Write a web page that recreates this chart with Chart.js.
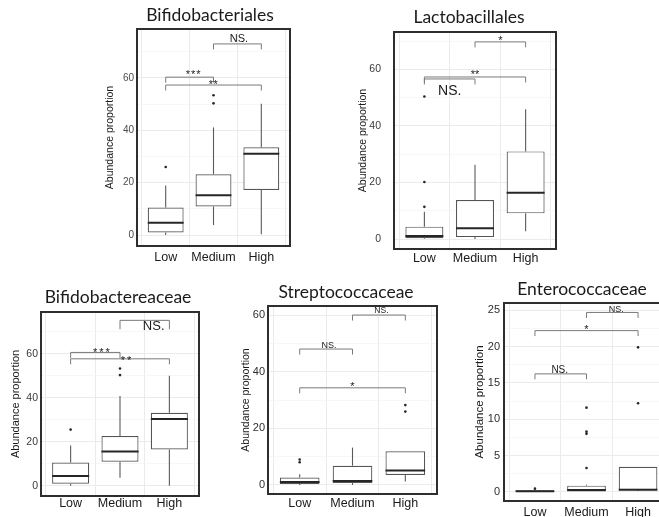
<!DOCTYPE html>
<html>
<head>
<meta charset="utf-8">
<title>Abundance proportion by group</title>
<script src="https://cdn.jsdelivr.net/npm/chart.js@4.4.1/dist/chart.umd.min.js"></script>
<style>
  html, body { margin: 0; padding: 0; background: #ffffff; width: 659px; height: 517px; overflow: hidden; }
  canvas { position: absolute; left: 0; top: 0; }
</style>
</head>
<body>
<canvas id="bifidobacteriales" width="680" height="517"></canvas>
<canvas id="lactobacillales" width="680" height="517"></canvas>
<canvas id="bifidobactereaceae" width="680" height="517"></canvas>
<canvas id="streptococcaceae" width="680" height="517"></canvas>
<canvas id="enterococcaceae" width="680" height="517"></canvas>
<script>
// ---------- data ----------
const groups = ['Low', 'Medium', 'High'];
const axisTitle = 'Abundance proportion';

// Bifidobacteriales
const bfoMin = [0, 3.8, 0.3];
const bfoQ1 = [1.0, 10.9, 17.2];
const bfoMedian = [4.7, 15.2, 31.0];
const bfoQ3 = [10.5, 23.2, 33.5];
const bfoMax = [18.9, 41.1, 50.1];
const bfoOutliers = [[26.0], [50.3, 53.4], []];
const bfoTicks = [0, 20, 40, 60];
const bfoTestPairs = [['Low', 'Medium'], ['Low', 'High'], ['Medium', 'High']];
const bfoTestHeights = [60.3, 57.3, 73.0];
const bfoTestLabels = ['***', '**', 'NS.'];

// Lactobacillales
const lacMin = [0, 0, 2.8];
const lacQ1 = [0.3, 0.7, 9.1];
const lacMedian = [1.1, 3.8, 16.4];
const lacQ3 = [4.4, 13.8, 31.0];
const lacMax = [9.7, 26.3, 45.9];
const lacOutliers = [[11.4, 20.2, 50.4], [], []];
const lacTicks = [0, 20, 40, 60];
const lacTestPairs = [['Medium', 'High'], ['Low', 'High'], ['Low', 'Medium']];
const lacTestHeights = [69.7, 57.3, 56.6];
const lacTestLabels = ['*', '**', 'NS.'];

// Bifidobactereaceae
const bfaMin = [0, 3.6, 0];
const bfaQ1 = [0.9, 10.9, 16.5];
const bfaMedian = [4.4, 15.5, 30.3];
const bfaQ3 = [10.5, 22.6, 33.2];
const bfaMax = [18.3, 40.8, 50.0];
const bfaOutliers = [[25.5], [50.3, 53.3], []];
const bfaTicks = [0, 20, 40, 60];
const bfaTestPairs = [['Low', 'Medium'], ['Low', 'High'], ['Medium', 'High']];
const bfaTestHeights = [60.6, 57.7, 75.2];
const bfaTestLabels = ['***', '**', 'NS.'];

// Streptococcaceae
const strMin = [0, 0, 1.2];
const strQ1 = [0.35, 0.7, 3.5];
const strMedian = [1.06, 1.4, 5.1];
const strQ3 = [2.6, 6.8, 11.9];
const strMax = [3.8, 13.2, 11.9];
const strOutliers = [[8.0, 9.0], [], [25.9, 28.2]];
const strTicks = [0, 20, 40, 60];
const strTestPairs = [['Low', 'Medium'], ['Medium', 'High'], ['Low', 'High']];
const strTestHeights = [48.0, 60.0, 34.3];
const strTestLabels = ['NS.', 'NS.', '*'];

// Enterococcaceae
const entMin = [0, 0, 0.14];
const entQ1 = [0, 0, 0.27];
const entMedian = [0.09, 0.27, 0.3];
const entQ3 = [0.23, 0.87, 3.46];
const entMax = [0.3, 1.0, 3.46];
const entOutliers = [[0.46], [3.3, 8.0, 8.3, 11.6], [12.2, 19.9]];
const entTicks = [0, 5, 10, 15, 20, 25];
const entTestPairs = [['Medium', 'High'], ['Low', 'High'], ['Low', 'Medium']];
const entTestHeights = [24.7, 22.2, 16.25];
const entTestLabels = ['NS.', '*', 'NS.'];

// ---------- drawing ----------
const FONT = "'Liberation Sans', Arial, sans-serif";
const TITLE_FONT = "Lato, 'Open Sans', sans-serif";
const CANVAS_W = 680, CANVAS_H = 517;
const Y_AXIS_W = 40, X_AXIS_H = 20;

function strokeLine(c, x1, y1, x2, y2) {
  c.beginPath(); c.moveTo(x1, y1); c.lineTo(x2, y2); c.stroke();
}

function boxPlotPlugin(stats, tests, look) {
  return {
    id: 'boxPlot',
    beforeDatasetsDraw(chart) {
      const { ctx: c, scales: { x, y } } = chart;
      c.save();
      c.strokeStyle = '#5a5a5a';
      c.lineWidth = 1.1;
      stats.q1.forEach((_, i) => {
        const px = x.getPixelForValue(i + 1);
        strokeLine(c, px, y.getPixelForValue(stats.max[i]), px, y.getPixelForValue(stats.q3[i]));
        strokeLine(c, px, y.getPixelForValue(stats.q1[i]), px, y.getPixelForValue(stats.min[i]));
      });
      c.restore();
    },
    afterDatasetsDraw(chart) {
      const { ctx: c, scales: { x, y } } = chart;
      const boxes = chart.getDatasetMeta(0).data;
      c.save();
      // medians
      c.strokeStyle = '#262626';
      c.lineWidth = 2;
      stats.median.forEach((m, i) => {
        const b = boxes[i];
        const py = y.getPixelForValue(m);
        strokeLine(c, b.x - b.width / 2, py, b.x + b.width / 2, py);
      });
      // significance brackets
      c.strokeStyle = '#7a7a7a';
      c.lineWidth = 1;
      c.fillStyle = '#1a1a1a';
      c.textAlign = 'center';
      c.textBaseline = 'alphabetic';
      tests.pairs.forEach((pair, k) => {
        const st = look.brackets[k];
        const x1 = x.getPixelForValue(groups.indexOf(pair[0]) + 1);
        const x2 = x.getPixelForValue(groups.indexOf(pair[1]) + 1);
        const py = y.getPixelForValue(tests.heights[k]);
        const tip = st.tip ?? 5.5;
        c.beginPath();
        c.moveTo(x1, py + tip); c.lineTo(x1, py); c.lineTo(x2, py); c.lineTo(x2, py + tip);
        c.stroke();
        c.font = `${st.size}px ${FONT}`;
        c.letterSpacing = `${st.spacing || 0}px`;
        c.fillText(tests.labels[k], (x1 + x2) / 2 + (st.dx || 0), py + st.dy);
      });
      c.restore();
    },
    afterDraw(chart) {
      const { ctx: c, chartArea: a } = chart;
      c.save();
      c.strokeStyle = '#2e2e2e';
      c.lineWidth = 2;
      c.strokeRect(a.left, a.top, a.right - a.left, a.bottom - a.top);
      c.font = `${look.titleSize}px ${TITLE_FONT}`;
      c.fillStyle = '#1a1a1a';
      c.textAlign = 'center';
      c.textBaseline = 'middle';
      c.fillText(look.title, look.titleX, look.titleY);
      c.restore();
    }
  };
}

function boxChart(canvasId, stats, tests, look) {
  const f = look.frame;
  const isMajor = v => stats.ticks.includes(v);
  return new Chart(document.getElementById(canvasId), {
    type: 'bar',
    data: {
      datasets: [
        {
          type: 'bar',
          data: stats.q1.map((q1, i) => ({ x: i + 1, y: [q1, stats.q3[i]] })),
          backgroundColor: '#ffffff',
          borderColor: '#555555',
          borderWidth: 1.2,
          borderSkipped: false,
          barPercentage: 0.75,
          categoryPercentage: 1,
          order: 2
        },
        {
          type: 'scatter',
          data: stats.outliers.flatMap((vals, i) => vals.map(v => ({ x: i + 1, y: v }))),
          pointRadius: 1.3,
          pointBackgroundColor: '#262626',
          pointBorderWidth: 0,
          order: 1
        }
      ]
    },
    options: {
      responsive: false,
      animation: false,
      devicePixelRatio: 1,
      layout: {
        padding: {
          left: f.l - Y_AXIS_W,
          top: f.t,
          right: CANVAS_W - f.r,
          bottom: CANVAS_H - f.b - X_AXIS_H
        }
      },
      plugins: { legend: { display: false }, tooltip: { enabled: false } },
      scales: {
        x: {
          type: 'linear',
          min: 0.4,
          max: 3.6,
          offset: false,
          border: { display: false },
          grid: { color: '#ebebeb', lineWidth: 1, drawTicks: false },
          ticks: {
            stepSize: 1,
            includeBounds: false,
            autoSkip: false,
            maxRotation: 0,
            padding: look.xPad,
            color: '#1a1a1a',
            font: { family: FONT, size: 12.5 },
            callback: v => groups[v - 1] ?? ''
          },
          afterFit: s => { s.height = X_AXIS_H; }
        },
        y: {
          type: 'linear',
          min: look.yMin,
          max: look.yMax,
          border: { display: false },
          grid: {
            drawTicks: false,
            color: c => (c.tick && isMajor(c.tick.value)) ? '#ebebeb' : '#f4f4f4',
            lineWidth: c => (c.tick && isMajor(c.tick.value)) ? 1 : 0.7
          },
          ticks: {
            stepSize: look.yStep,
            includeBounds: false,
            autoSkip: false,
            padding: look.yPad,
            color: look.tickColor,
            font: { family: FONT, size: look.tickSize },
            callback: v => isMajor(v) ? String(v) : ''
          },
          title: {
            display: true,
            text: axisTitle,
            color: '#1a1a1a',
            font: { family: FONT, size: look.yTitleSize },
            padding: { top: Y_AXIS_W - look.yTitleGap - look.yTitleSize * 0.6, bottom: 0 }
          },
          afterFit: s => { s.width = Y_AXIS_W; }
        }
      }
    },
    plugins: [boxPlotPlugin(stats, tests, look)]
  });
}

boxChart('bifidobacteriales',
  { min: bfoMin, q1: bfoQ1, median: bfoMedian, q3: bfoQ3, max: bfoMax, outliers: bfoOutliers, ticks: bfoTicks },
  { pairs: bfoTestPairs, heights: bfoTestHeights, labels: bfoTestLabels },
  {
    title: 'Bifidobacteriales', titleX: 210, titleY: 15.5, titleSize: 17.5,
    frame: { l: 137, t: 29, r: 290, b: 246 }, yMin: -4.2, yMax: 78.7, yStep: 10,
    yPad: 3, xPad: 4, tickSize: 10, tickColor: '#4d4d4d', yTitleSize: 10.5, yTitleGap: 27,
    brackets: [{ size: 11, dx: 4, dy: 1, spacing: 1 }, { size: 11, dy: 3, spacing: 0.5 }, { size: 11, dx: 1.5, dy: -2 }]
  });

boxChart('lactobacillales',
  { min: lacMin, q1: lacQ1, median: lacMedian, q3: lacQ3, max: lacMax, outliers: lacOutliers, ticks: lacTicks },
  { pairs: lacTestPairs, heights: lacTestHeights, labels: lacTestLabels },
  {
    title: 'Lactobacillales', titleX: 469, titleY: 17, titleSize: 17.5,
    frame: { l: 394, t: 32, r: 556, b: 249 }, yMin: -3.5, yMax: 73.2, yStep: 10,
    yPad: 13, xPad: 2, tickSize: 10.5, tickColor: '#3a3a3a', yTitleSize: 10.5, yTitleGap: 31,
    brackets: [{ size: 11, dy: 2 }, { size: 11, dy: 1 }, { size: 14, dy: 16 }]
  });

boxChart('bifidobactereaceae',
  { min: bfaMin, q1: bfaQ1, median: bfaMedian, q3: bfaQ3, max: bfaMax, outliers: bfaOutliers, ticks: bfaTicks },
  { pairs: bfaTestPairs, heights: bfaTestHeights, labels: bfaTestLabels },
  {
    title: 'Bifidobactereaceae', titleX: 118, titleY: 297, titleSize: 17.5,
    frame: { l: 41, t: 312, r: 199, b: 496 }, yMin: -4.7, yMax: 79.0, yStep: 10,
    yPad: 3, xPad: 0, tickSize: 10.5, tickColor: '#3a3a3a', yTitleSize: 11, yTitleGap: 25,
    brackets: [{ size: 11, dx: 7, dy: 4, spacing: 2 }, { size: 11, dx: 7, dy: 5, spacing: 2 }, { size: 13, dx: 9, dy: 10, tip: 9 }]
  });

boxChart('streptococcaceae',
  { min: strMin, q1: strQ1, median: strMedian, q3: strQ3, max: strMax, outliers: strOutliers, ticks: strTicks },
  { pairs: strTestPairs, heights: strTestHeights, labels: strTestLabels },
  {
    title: 'Streptococcaceae', titleX: 346, titleY: 292, titleSize: 17.5,
    frame: { l: 268, t: 306, r: 437, b: 494 }, yMin: -3.2, yMax: 63.2, yStep: 10,
    yPad: 3, xPad: 2, tickSize: 11, tickColor: '#2e2e2e', yTitleSize: 10.5, yTitleGap: 22,
    brackets: [{ size: 9, dx: 3, dy: -1.5 }, { size: 8.5, dx: 2.5, dy: -2 }, { size: 11, dy: 2.5 }]
  });

boxChart('enterococcaceae',
  { min: entMin, q1: entQ1, median: entMedian, q3: entQ3, max: entMax, outliers: entOutliers, ticks: entTicks },
  { pairs: entTestPairs, heights: entTestHeights, labels: entTestLabels },
  {
    title: 'Enterococcaceae', titleX: 582, titleY: 289, titleSize: 17.5,
    frame: { l: 504, t: 303, r: 669, b: 501 }, yMin: -1.24, yMax: 26.0, yStep: 2.5,
    yPad: 4, xPad: 4, tickSize: 11, tickColor: '#2e2e2e', yTitleSize: 11.5, yTitleGap: 24,
    brackets: [{ size: 9, dx: 4, dy: 0 }, { size: 11, dy: 2 }, { size: 10, dx: -1, dy: -1 }]
  });
</script>
</body>
</html>
